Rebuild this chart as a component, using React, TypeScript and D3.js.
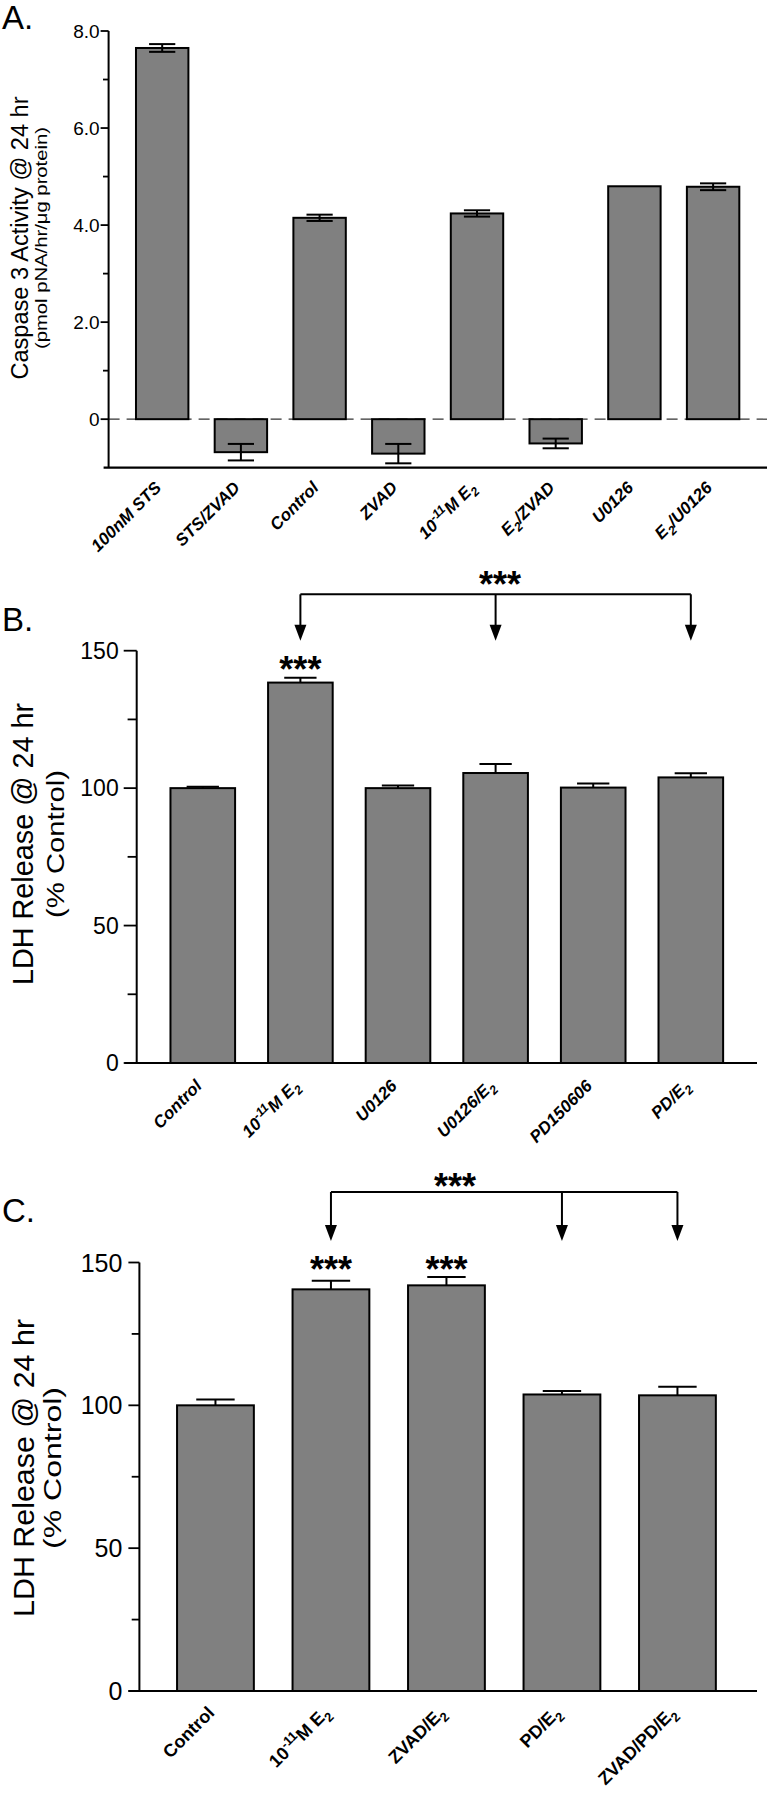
import React from "react";
import * as d3 from "d3";

// ---------- DATA ----------
const catsA = ["100nM STS", "STS/ZVAD", "Control", "ZVAD", "10^{-11}M E_{2}", "E_{2}/ZVAD", "U0126", "E_{2}/U0126"];
const meansA = [7.65, -0.68, 4.15, -0.71, 4.24, -0.5, 4.8, 4.79];
const errsA = [0.08, 0.17, 0.065, 0.2, 0.065, 0.1, 0.0, 0.07];
const majorTicksA = [0, 2, 4, 6, 8];
const minorTicksA = [1, 3, 5, 7];
const tickLabelsA = ["0", "2.0", "4.0", "6.0", "8.0"];

const catsB = ["Control", "10^{-11}M E_{2}", "U0126", "U0126/E_{2}", "PD150606", "PD/E_{2}"];
const meansB = [100, 138.4, 100, 105.5, 100.2, 103.9];
const errsB = [0.5, 1.8, 1.0, 3.3, 1.5, 1.5];

const catsC = ["Control", "10^{-11}M E_{2}", "ZVAD/E_{2}", "PD/E_{2}", "ZVAD/PD/E_{2}"];
const meansC = [100, 140.6, 142.0, 103.8, 103.5];
const errsC = [2.0, 3.0, 2.9, 1.2, 3.0];

const majorTicksLDH = [0, 50, 100, 150];
const minorTicksLDH = [25, 75, 125];
const tickLabelsLDH = ["0", "50", "100", "150"];

const starsB = [1]; // bars marked *** in B
const starsC = [1, 2];
const bracketB = [1, 3, 5];
const bracketC = [1, 3, 4];

const FONT = "'Liberation Sans', Arial, Helvetica, sans-serif";
const FILL = "#808080";

let ctxCache: CanvasRenderingContext2D | null = null;
function measure(str: string, fs: number, italic: boolean): number {
  try {
    if (!ctxCache) {
      const cv = document.createElement("canvas");
      ctxCache = cv.getContext("2d");
    }
    if (ctxCache) {
      ctxCache.font = `${italic ? "italic " : ""}bold ${fs}px "Liberation Sans", Arial, sans-serif`;
      return ctxCache.measureText(str).width;
    }
  } catch (e) {}
  return str.length * fs * 0.62;
}

// Label made of separate plain <text> pieces, laid along a baseline rotated by -45 degrees
function RotLabel({ text, fs, italic, cx, cy }: { text: string; fs: number; italic: boolean; cx: number; cy: number }) {
  const parts = text.split(/(\^\{[^}]*\}|_\{[^}]*\})/).filter(Boolean);
  const segs = parts.map((p) => {
    if (p.startsWith("^{")) return { t: p.slice(2, -1), size: fs * 0.72, dy: -fs * 0.4 };
    if (p.startsWith("_{")) return { t: p.slice(2, -1), size: fs * 0.72, dy: fs * 0.28 };
    return { t: p, size: fs, dy: 0 };
  });
  const widths = segs.map((s) => measure(s.t, s.size, italic));
  const total = widths.reduce((a, b) => a + b, 0);
  let off = -total;
  return (
    <g transform={`translate(${cx},${cy}) rotate(-45)`}>
      {segs.map((s, i) => {
        const xx = off;
        off += widths[i];
        return (
          <text
            key={i}
            x={xx}
            y={s.dy}
            fontFamily={FONT}
            fontSize={s.size}
            fontWeight="bold"
            fontStyle={italic ? "italic" : "normal"}
            style={{ whiteSpace: "pre" }}
          >
            {s.t}
          </text>
        );
      })}
    </g>
  );
}

type PanelCfg = {
  cats: string[];
  means: number[];
  errs: number[];
  bothErr: boolean;
  domain: [number, number];
  yRange: [number, number];
  xRange: [number, number];
  padInner: number;
  padOuter: number;
  axisLeftExt: number;
  axisRight: number;
  major: number[];
  minor: number[];
  majorLabels: string[];
  tickLen: number;
  tickFs: number;
  tickGap: number;
  labelFs: number;
  labelItalic: boolean;
  labelOffset: number;
  dashedZero: boolean;
  yTitle1: string;
  yTitle2: string;
  t1: { x: number; fs: number; len: number };
  t2: { x: number; fs: number; len: number };
  titleY: number;
  letter: string;
  letterY: number;
  stars: number[];
  starsY: number;
  bracket?: { idx: number[]; y: number; tip: number; starX: number; starY: number };
};

function Panel({ c }: { c: PanelCfg }) {
  const x = d3
    .scaleBand<number>()
    .domain(c.cats.map((_, i) => i))
    .range(c.xRange)
    .paddingInner(c.padInner)
    .paddingOuter(c.padOuter);
  const y = d3.scaleLinear().domain(c.domain).range(c.yRange);
  const bw = x.bandwidth();
  const x0 = c.xRange[0];
  const yBase = c.yRange[0];
  const starFs = 36;
  return (
    <g>
      <text x={2} y={c.letterY} fontSize={33} fill="#000" fontFamily={FONT}>
        {c.letter}
      </text>
      {/* y titles */}
      <text
        x={0}
        y={0}
        transform={`translate(${c.t1.x},${c.titleY}) rotate(-90)`}
        textAnchor="middle"
        fontFamily={FONT}
        fontSize={c.t1.fs}
        textLength={c.t1.len}
        lengthAdjust="spacingAndGlyphs"
      >
        {c.yTitle1}
      </text>
      <text
        x={0}
        y={0}
        transform={`translate(${c.t2.x},${c.titleY}) rotate(-90)`}
        textAnchor="middle"
        fontFamily={FONT}
        fontSize={c.t2.fs}
        textLength={c.t2.len}
        lengthAdjust="spacingAndGlyphs"
      >
        {c.yTitle2}
      </text>
      {/* dashed zero line */}
      {c.dashedZero && (
        <line x1={x0} x2={767} y1={y(0)} y2={y(0)} stroke="#333" strokeWidth={1.2} strokeDasharray="11,7" />
      )}
      {/* bars */}
      {c.means.map((m, i) => {
        const top = Math.min(y(m), y(0));
        const h = Math.abs(y(m) - y(0));
        return (
          <rect key={i} x={x(i)!} y={top} width={bw} height={h} fill={FILL} stroke="#000" strokeWidth={2} />
        );
      })}
      {/* error bars */}
      {c.means.map((m, i) => {
        const e = c.errs[i];
        if (e <= 0) return null;
        const cx = x(i)! + bw / 2;
        const hi = m + e;
        const lo = c.bothErr ? m - e : m;
        const cw = bw / 4;
        return (
          <g key={i} stroke="#000" strokeWidth={2}>
            <line x1={cx} x2={cx} y1={y(hi)} y2={y(lo)} />
            <line x1={cx - cw} x2={cx + cw} y1={y(hi)} y2={y(hi)} />
            {c.bothErr && <line x1={cx - cw} x2={cx + cw} y1={y(lo)} y2={y(lo)} />}
          </g>
        );
      })}
      {/* axes */}
      <line x1={x0} x2={x0} y1={y(c.domain[1])} y2={yBase} stroke="#000" strokeWidth={2} />
      <line x1={x0 - c.axisLeftExt} x2={c.axisRight} y1={yBase} y2={yBase} stroke="#000" strokeWidth={2.2} />
      {c.major.map((t, i) => (
        <g key={"M" + i}>
          <line x1={x0 - c.tickLen} x2={x0} y1={y(t)} y2={y(t)} stroke="#000" strokeWidth={1.8} />
          <text
            x={x0 - c.tickLen - c.tickGap}
            y={y(t) + c.tickFs * 0.36}
            textAnchor="end"
            fontFamily={FONT}
            fontSize={c.tickFs}
          >
            {c.majorLabels[i]}
          </text>
        </g>
      ))}
      {c.minor.map((t, i) => (
        <line key={"m" + i} x1={x0 - c.tickLen * 0.7} x2={x0} y1={y(t)} y2={y(t)} stroke="#000" strokeWidth={1.8} />
      ))}
      {/* category labels, rotated 45 degrees */}
      {c.cats.map((lab, i) => (
        <RotLabel
          key={i}
          text={lab}
          fs={c.labelFs}
          italic={c.labelItalic}
          cx={x(i)! + bw / 2}
          cy={yBase + c.labelOffset}
        />
      ))}
      {/* stars over bars */}
      {c.stars.map((i) => (
        <text
          key={"s" + i}
          x={x(i)! + bw / 2}
          y={c.starsY + starFs * 0.6}
          textAnchor="middle"
          fontFamily={FONT}
          fontSize={starFs}
          fontWeight="bold"
        >
          ***
        </text>
      ))}
      {/* bracket */}
      {c.bracket && (() => {
        const b = c.bracket!;
        const xs = b.idx.map((i) => x(i)! + bw / 2);
        return (
          <g>
            <line x1={xs[0]} x2={xs[xs.length - 1]} y1={b.y} y2={b.y} stroke="#000" strokeWidth={2} />
            {xs.map((xx, k) => (
              <g key={k}>
                <line x1={xx} x2={xx} y1={b.y} y2={b.tip - 10} stroke="#000" strokeWidth={2} />
                <polygon points={`${xx - 6},${b.tip - 16} ${xx + 6},${b.tip - 16} ${xx},${b.tip}`} fill="#000" />
              </g>
            ))}
            <text
              x={b.starX}
              y={b.starY + starFs * 0.6}
              textAnchor="middle"
              fontFamily={FONT}
              fontSize={starFs}
              fontWeight="bold"
            >
              ***
            </text>
          </g>
        );
      })()}
    </g>
  );
}

const cfgA: PanelCfg = {
  cats: catsA,
  means: meansA,
  errs: errsA,
  bothErr: true,
  domain: [-1, 8],
  yRange: [467.7, 31],
  xRange: [108.6, 766.7],
  padInner: 0.334,
  padOuter: 0.348,
  axisLeftExt: 5,
  axisRight: 767,
  major: majorTicksA,
  minor: minorTicksA,
  majorLabels: tickLabelsA,
  tickLen: 8,
  tickFs: 19,
  tickGap: 1,
  labelFs: 17,
  labelItalic: true,
  labelOffset: 21,
  dashedZero: true,
  yTitle1: "Caspase 3 Activity @ 24 hr",
  yTitle2: "(pmol pNA/hr/\u03bcg protein)",
  t1: { x: 28.4, fs: 23, len: 283 },
  t2: { x: 46.5, fs: 16, len: 222 },
  titleY: 238,
  letter: "A.",
  letterY: 29,
  stars: [],
  starsY: 0,
};

const cfgB: PanelCfg = {
  cats: catsB,
  means: meansB,
  errs: errsB,
  bothErr: false,
  domain: [0, 150],
  yRange: [1063, 650.7],
  xRange: [136.7, 756.9],
  padInner: 0.338,
  padOuter: 0.346,
  axisLeftExt: 12,
  axisRight: 757,
  major: majorTicksLDH,
  minor: minorTicksLDH,
  majorLabels: tickLabelsLDH,
  tickLen: 13,
  tickFs: 23,
  tickGap: 5,
  labelFs: 17,
  labelItalic: true,
  labelOffset: 24,
  dashedZero: false,
  yTitle1: "LDH Release @ 24 hr",
  yTitle2: "(% Control)",
  t1: { x: 33.3, fs: 29, len: 282 },
  t2: { x: 63.5, fs: 23, len: 148 },
  titleY: 844,
  letter: "B.",
  letterY: 631,
  stars: starsB,
  starsY: 660,
  bracket: { idx: bracketB, y: 594.3, tip: 640.7, starX: 500, starY: 575 },
};

const cfgC: PanelCfg = {
  cats: catsC,
  means: meansC,
  errs: errsC,
  bothErr: false,
  domain: [0, 150],
  yRange: [1691, 1262.5],
  xRange: [139.4, 753.5],
  padInner: 0.335,
  padOuter: 0.326,
  axisLeftExt: 11,
  axisRight: 757,
  major: majorTicksLDH,
  minor: minorTicksLDH,
  majorLabels: tickLabelsLDH,
  tickLen: 11,
  tickFs: 25,
  tickGap: 6,
  labelFs: 18,
  labelItalic: false,
  labelOffset: 23,
  dashedZero: false,
  yTitle1: "LDH Release @ 24 hr",
  yTitle2: "(% Control)",
  t1: { x: 34, fs: 29, len: 298 },
  t2: { x: 61, fs: 23.5, len: 162 },
  titleY: 1468,
  letter: "C.",
  letterY: 1222,
  stars: starsC,
  starsY: 1260,
  bracket: { idx: bracketC, y: 1192, tip: 1241, starX: 455, starY: 1177 },
};

export default function App() {
  return (
    <svg
      width={767}
      height={1800}
      viewBox="0 0 767 1800"
      style={{ position: "absolute", left: 0, top: 0, background: "#fff" }}
    >
      <rect x={0} y={0} width={767} height={1800} fill="#fff" />
      <Panel c={cfgA} />
      <Panel c={cfgB} />
      <Panel c={cfgC} />
    </svg>
  );
}
